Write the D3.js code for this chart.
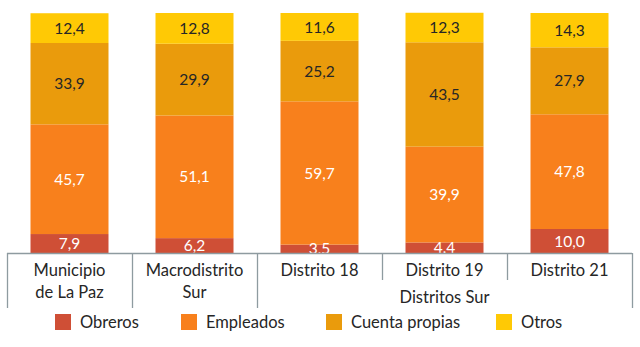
<!DOCTYPE html>
<html><head><meta charset="utf-8">
<script src="https://cdn.jsdelivr.net/npm/d3@7"></script>
<style>body{margin:0;background:#fff;}svg{display:block;font-family:Lato,"Open Sans",sans-serif;}</style>
</head><body><svg id="c" width="640" height="347"></svg>
<script>
const categories = ["Municipio\nde La Paz", "Macrodistrito\nSur", "Distrito 18", "Distrito 19", "Distrito 21"];
const seriesNames = ["Obreros", "Empleados", "Cuenta propias", "Otros"];
const obreros = [7.9, 6.2, 3.5, 4.4, 10.0];
const empleados = [45.7, 51.1, 59.7, 39.9, 47.8];
const cuentaPropias = [33.9, 29.9, 25.2, 43.5, 27.9];
const otros = [12.4, 12.8, 11.6, 12.3, 14.3];
const groupLabel = "Distritos Sur";
const colors = ["#CF4F36", "#F8801C", "#EA9B0C", "#FFC905"];
const labelColors = ["#ffffff", "#ffffff", "#262626", "#262626"];

const series = [obreros, empleados, cuentaPropias, otros];
const svg = d3.select("#c");
const x = d3.scaleBand().domain(categories).range([7, 632]).paddingInner(0.376).paddingOuter(0.188);
const y = d3.scaleLinear().domain([0, 100]).range([253, 13]);
const fmt = v => v.toFixed(1).replace(".", ",");

svg.append("defs").append("clipPath").attr("id", "plot")
  .append("rect").attr("x", 0).attr("y", 0).attr("width", 640).attr("height", 253);

const rows = categories.map((c, i) => {
  const o = {cat: c};
  seriesNames.forEach((s, k) => o[s] = series[k][i]);
  return o;
});
const stacked = d3.stack().keys(seriesNames)(rows);
const g = svg.append("g").attr("clip-path", "url(#plot)");
stacked.forEach((layer, k) => {
  g.selectAll(null).data(layer).join("rect")
    .attr("x", d => x(d.data.cat)).attr("width", x.bandwidth())
    .attr("y", d => y(d[1])).attr("height", d => y(d[0]) - y(d[1]))
    .attr("fill", colors[k]);
});
stacked.forEach((layer, k) => {
  g.selectAll(null).data(layer).join("text")
    .attr("x", d => x(d.data.cat) + x.bandwidth() / 2)
    .attr("y", d => (y(d[0]) + y(d[1])) / 2)
    .attr("dy", "0.36em").attr("text-anchor", "middle")
    .attr("font-size", 15.5).attr("fill", labelColors[k])
    .text(d => fmt(d[1] - d[0]));
});

// axis
const axisColor = "#8E9BA0";
const x0 = x.range()[0], step = x.step();
svg.append("line").attr("x1", x0).attr("x2", x.range()[1]).attr("y1", y(0) + 0.5).attr("y2", y(0) + 0.5)
  .attr("stroke", axisColor).attr("stroke-width", 1.3);
d3.range(categories.length + 1).forEach(i => {
  const xx = Math.round(x0 + step * i) + 0.5;
  const long = (i <= 2 || i === categories.length);
  svg.append("line").attr("x1", xx).attr("x2", xx).attr("y1", y(0)).attr("y2", long ? 308 : 280)
    .attr("stroke", axisColor).attr("stroke-width", 1.3);
});
categories.forEach(c => {
  const lines = c.split("\n");
  const t = svg.append("text").attr("x", x(c) + x.bandwidth() / 2).attr("y", 276)
    .attr("text-anchor", "middle").attr("font-size", 16.5).attr("fill", "#262626");
  lines.forEach((l, j) => t.append("tspan").attr("x", x(c) + x.bandwidth() / 2).attr("dy", j ? 22 : 0).text(l));
});
svg.append("text").attr("x", (x0 + step * 2 + x.range()[1]) / 2).attr("y", 303)
  .attr("text-anchor", "middle").attr("font-size", 16.5).attr("fill", "#262626").text(groupLabel);

// legend
const legendX = [55, 181, 326, 496];
seriesNames.forEach((s, k) => {
  svg.append("rect").attr("x", legendX[k]).attr("y", 314).attr("width", 16).attr("height", 16).attr("fill", colors[k]);
  svg.append("text").attr("x", legendX[k] + 25).attr("y", 328).attr("font-size", 16.5).attr("fill", "#262626").text(s);
});
</script></body></html>
